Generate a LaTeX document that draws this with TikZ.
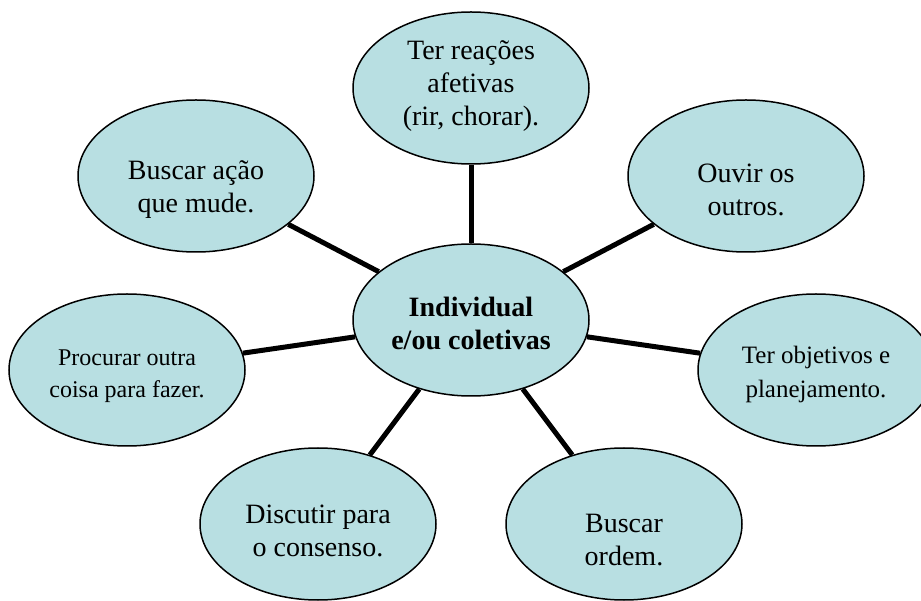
\documentclass[tikz,border=0pt]{standalone}
\usepackage{fontspec}
\setmainfont{Liberation Serif}
\usetikzlibrary{shapes.geometric}
\definecolor{bubble}{RGB}{184,223,226}
\tikzset{
  bub/.style={ellipse, draw=black, line width=1.5pt, fill=bubble, minimum width=236pt, minimum height=152pt, inner sep=0pt},
  txt/.style={align=center, font=\fontsize{28}{33}\selectfont, inner sep=0pt},
  smalltxt/.style={align=center, font=\fontsize{24}{32}\selectfont, inner sep=0pt},
  conn/.style={line width=5pt}
}
\begin{document}
\begin{tikzpicture}[x=1pt,y=1pt]
\useasboundingbox (0,0) rectangle (921,600);
\node[bub] (c) at (471,280) {};
\node[bub] (n1) at (471,512) {};
\node[bub] (n2) at (196,424) {};
\node[bub] (n3) at (746,424) {};
\node[bub] (n4) at (127,230) {};
\node[bub] (n5) at (816,230) {};
\node[bub] (n6) at (318,76) {};
\node[bub] (n7) at (624,76) {};
\foreach \n in {n1,n2,n3,n4,n5,n6,n7} \draw[conn] (c) -- (\n);
\node[txt, font=\fontsize{28}{33}\selectfont\bfseries] (tc) at (471,277) {Individual\\e/ou coletivas};
\node[txt] (t1) at (471,514) {Ter reações\\afetivas\\(rir, chorar).};
\node[txt] (t2) at (196,410) {Buscar ação\\que mude.};
\node[txt] (t3) at (746,410) {Ouvir os\\outros.};
\node[smalltxt] (t4) at (127,224) {Procurar outra\\coisa para fazer.};
\node[txt, font=\fontsize{25}{34}\selectfont] (t5) at (816,226) {Ter objetivos e\\planejamento.};
\node[txt] (t6) at (318,69) {Discutir para\\o consenso.};
\node[txt] (t7) at (624,60) {Buscar\\ordem.};
\end{tikzpicture}
\end{document}
